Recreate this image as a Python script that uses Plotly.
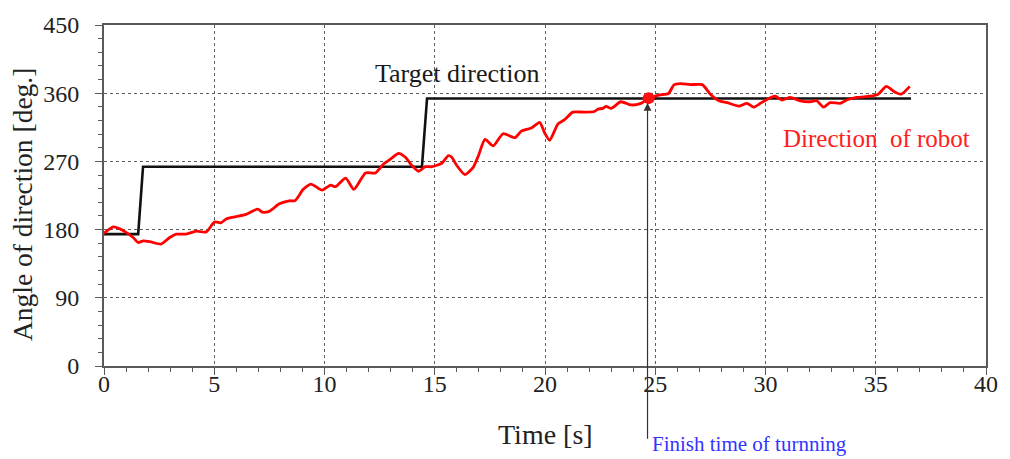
import plotly.graph_objects as go

# Measured heading of the robot [deg.] over time [s]
robot_t = [0, 0.42, 0.72, 1.02, 1.32, 1.55, 1.78, 2.08, 2.6, 2.98, 3.28, 3.73, 4.18, 4.64,
           5.01, 5.31, 5.54, 5.99, 6.44, 6.97, 7.19, 7.49, 7.95, 8.4, 8.65, 8.85, 9.0, 9.38,
           9.75, 9.9, 10.28, 10.5, 10.96, 11.33, 11.86, 12.31, 12.69, 12.99, 13.36, 13.67,
           13.96, 14.27, 14.57, 14.87, 15.32, 15.62, 15.77, 16.0, 16.37, 16.75, 16.98, 17.28,
           17.65, 18.1, 18.63, 18.93, 19.38, 19.76, 19.98, 20.21, 20.59, 20.89, 21.26, 21.79,
           22.24, 22.39, 22.62, 22.77, 23.0, 23.44, 23.9, 24.35, 24.72, 25.17, 25.6, 25.85,
           26.15, 26.6, 27.13, 27.5, 27.89, 28.26, 28.79, 29.16, 29.46, 29.77, 30.07, 30.44,
           30.74, 31.12, 31.57, 32.02, 32.32, 32.63, 32.93, 33.38, 33.68, 34.13, 34.73, 35.11,
           35.48, 35.86, 36.16, 36.54]
robot_deg = [175, 183.5, 181, 176, 169.6, 163, 165, 164, 161, 169.6, 174, 174, 178, 177,
             190, 189, 194, 197, 200, 207, 203, 204, 214, 218, 218, 225, 232, 240,
             234, 232, 238.7, 236.6, 248, 233, 254.7, 254.7, 266.8, 273, 280.6, 275.4,
             264.6, 257, 263, 263, 267.6, 277.5, 275.4, 264.6, 252.5, 262.5, 277.5, 299,
             290.5, 306.5, 301.3, 310, 314, 321.6, 307.8, 297.9, 319.5, 325, 335, 335,
             335.8, 338.9, 340, 342.5, 340, 348.7, 344.5, 346.6, 353.5, 357.5, 359.6, 371,
             372.6, 371.3, 371.3, 358.7, 350, 347.5, 343, 346.7, 341.5, 346.7, 351.8, 356,
             351, 354.4, 350, 348.7, 350, 341.5, 347.5, 346.7, 351, 354.4, 356, 358.7,
             369, 361.7, 358.7, 369]

# Commanded (target) heading, stepping in three stages
target_t = [0, 1.55, 1.77, 14.42, 14.65, 36.6]
target_deg = [174, 174, 263, 263, 353, 353]

# Moment the robot reaches the final target heading
finish_t = [24.7]
finish_deg = [353.5]

x_ticks = [0, 5, 10, 15, 20, 25, 30, 35, 40]
y_ticks = [0, 90, 180, 270, 360, 450]

SERIF = "Liberation Serif, Times New Roman, serif"
AXIS_GREY = "#5a5a5a"
GRID_GREY = "#5e5e5e"
TEXT = "#222222"

fig = go.Figure()

fig.add_trace(go.Scatter(
    x=target_t, y=target_deg, mode="lines",
    line=dict(color="#111111", width=2.6),
    showlegend=False, hoverinfo="skip",
))
fig.add_trace(go.Scatter(
    x=robot_t, y=robot_deg, mode="lines",
    line=dict(color="#ff0000", width=2.8, shape="spline", smoothing=0.6),
    showlegend=False,
))
fig.add_trace(go.Scatter(
    x=finish_t, y=finish_deg, mode="markers",
    marker=dict(color="#ff1010", size=12),
    showlegend=False,
))

# Arrow pointing up to the finish point
fig.add_annotation(
    x=finish_t[0] - 0.05, y=347, ax=finish_t[0] - 0.05, ay=-98,
    xref="x", yref="y", axref="x", ayref="y",
    text="", showarrow=True, arrowhead=2, arrowsize=1.3, arrowwidth=1.2,
    arrowcolor="#333333", standoff=0,
)
fig.add_annotation(
    x=0.6185, y=-0.2277, xref="paper", yref="paper", xanchor="left", yanchor="middle",
    text="Finish time of turnning", showarrow=False,
    font=dict(family=SERIF, size=21, color="#3333ff"),
)
fig.add_annotation(
    x=16.03, y=386, xref="x", yref="y", showarrow=False,
    text="Target direction",
    font=dict(family=SERIF, size=26, color="#1a1a1a"),
)
fig.add_annotation(
    x=35.05, y=300, xref="x", yref="y", showarrow=False,
    text="Direction  of robot",
    font=dict(family=SERIF, size=25, color="#ff2020"),
)

# Axis titles
fig.add_annotation(
    x=20, y=-0.2, xref="x", yref="paper", yanchor="middle", showarrow=False,
    text="Time [s]", font=dict(family=SERIF, size=28, color=TEXT),
)
fig.add_annotation(
    x=-0.093, y=0.475, xref="paper", yref="paper", xanchor="center", yanchor="middle",
    showarrow=False, textangle=-90,
    text="Angle of direction [deg.]", font=dict(family=SERIF, size=27.5, color=TEXT),
)

fig.update_xaxes(
    range=[0, 40], tickvals=x_ticks, ticktext=[str(v) for v in x_ticks],
    showline=True, linecolor=AXIS_GREY, linewidth=2, mirror=True,
    ticks="outside", ticklen=7, tickwidth=1, tickcolor=AXIS_GREY,
    minor=dict(dtick=1, ticks="outside", ticklen=4, tickcolor=AXIS_GREY, showgrid=False),
    showgrid=True, gridcolor=GRID_GREY, gridwidth=1, griddash="3px,3px",
    zeroline=False, ticklabelstandoff=-12,
    tickfont=dict(family=SERIF, size=24, color=TEXT),
)
fig.update_yaxes(
    range=[0, 450], tickvals=y_ticks, ticktext=[str(v) for v in y_ticks],
    showline=True, linecolor=AXIS_GREY, linewidth=2, mirror=True,
    ticks="outside", ticklen=7, tickwidth=1, tickcolor=AXIS_GREY,
    minor=dict(dtick=18, ticks="outside", ticklen=4, tickcolor=AXIS_GREY, showgrid=False),
    showgrid=True, gridcolor=GRID_GREY, gridwidth=1, griddash="3px,3px",
    zeroline=False, ticklabelstandoff=11,
    tickfont=dict(family=SERIF, size=24, color=TEXT),
)

fig.update_layout(
    width=1010, height=459,
    margin=dict(l=104, r=20, t=19, b=93),
    paper_bgcolor="white", plot_bgcolor="white",
)

fig.write_html("out.html")
